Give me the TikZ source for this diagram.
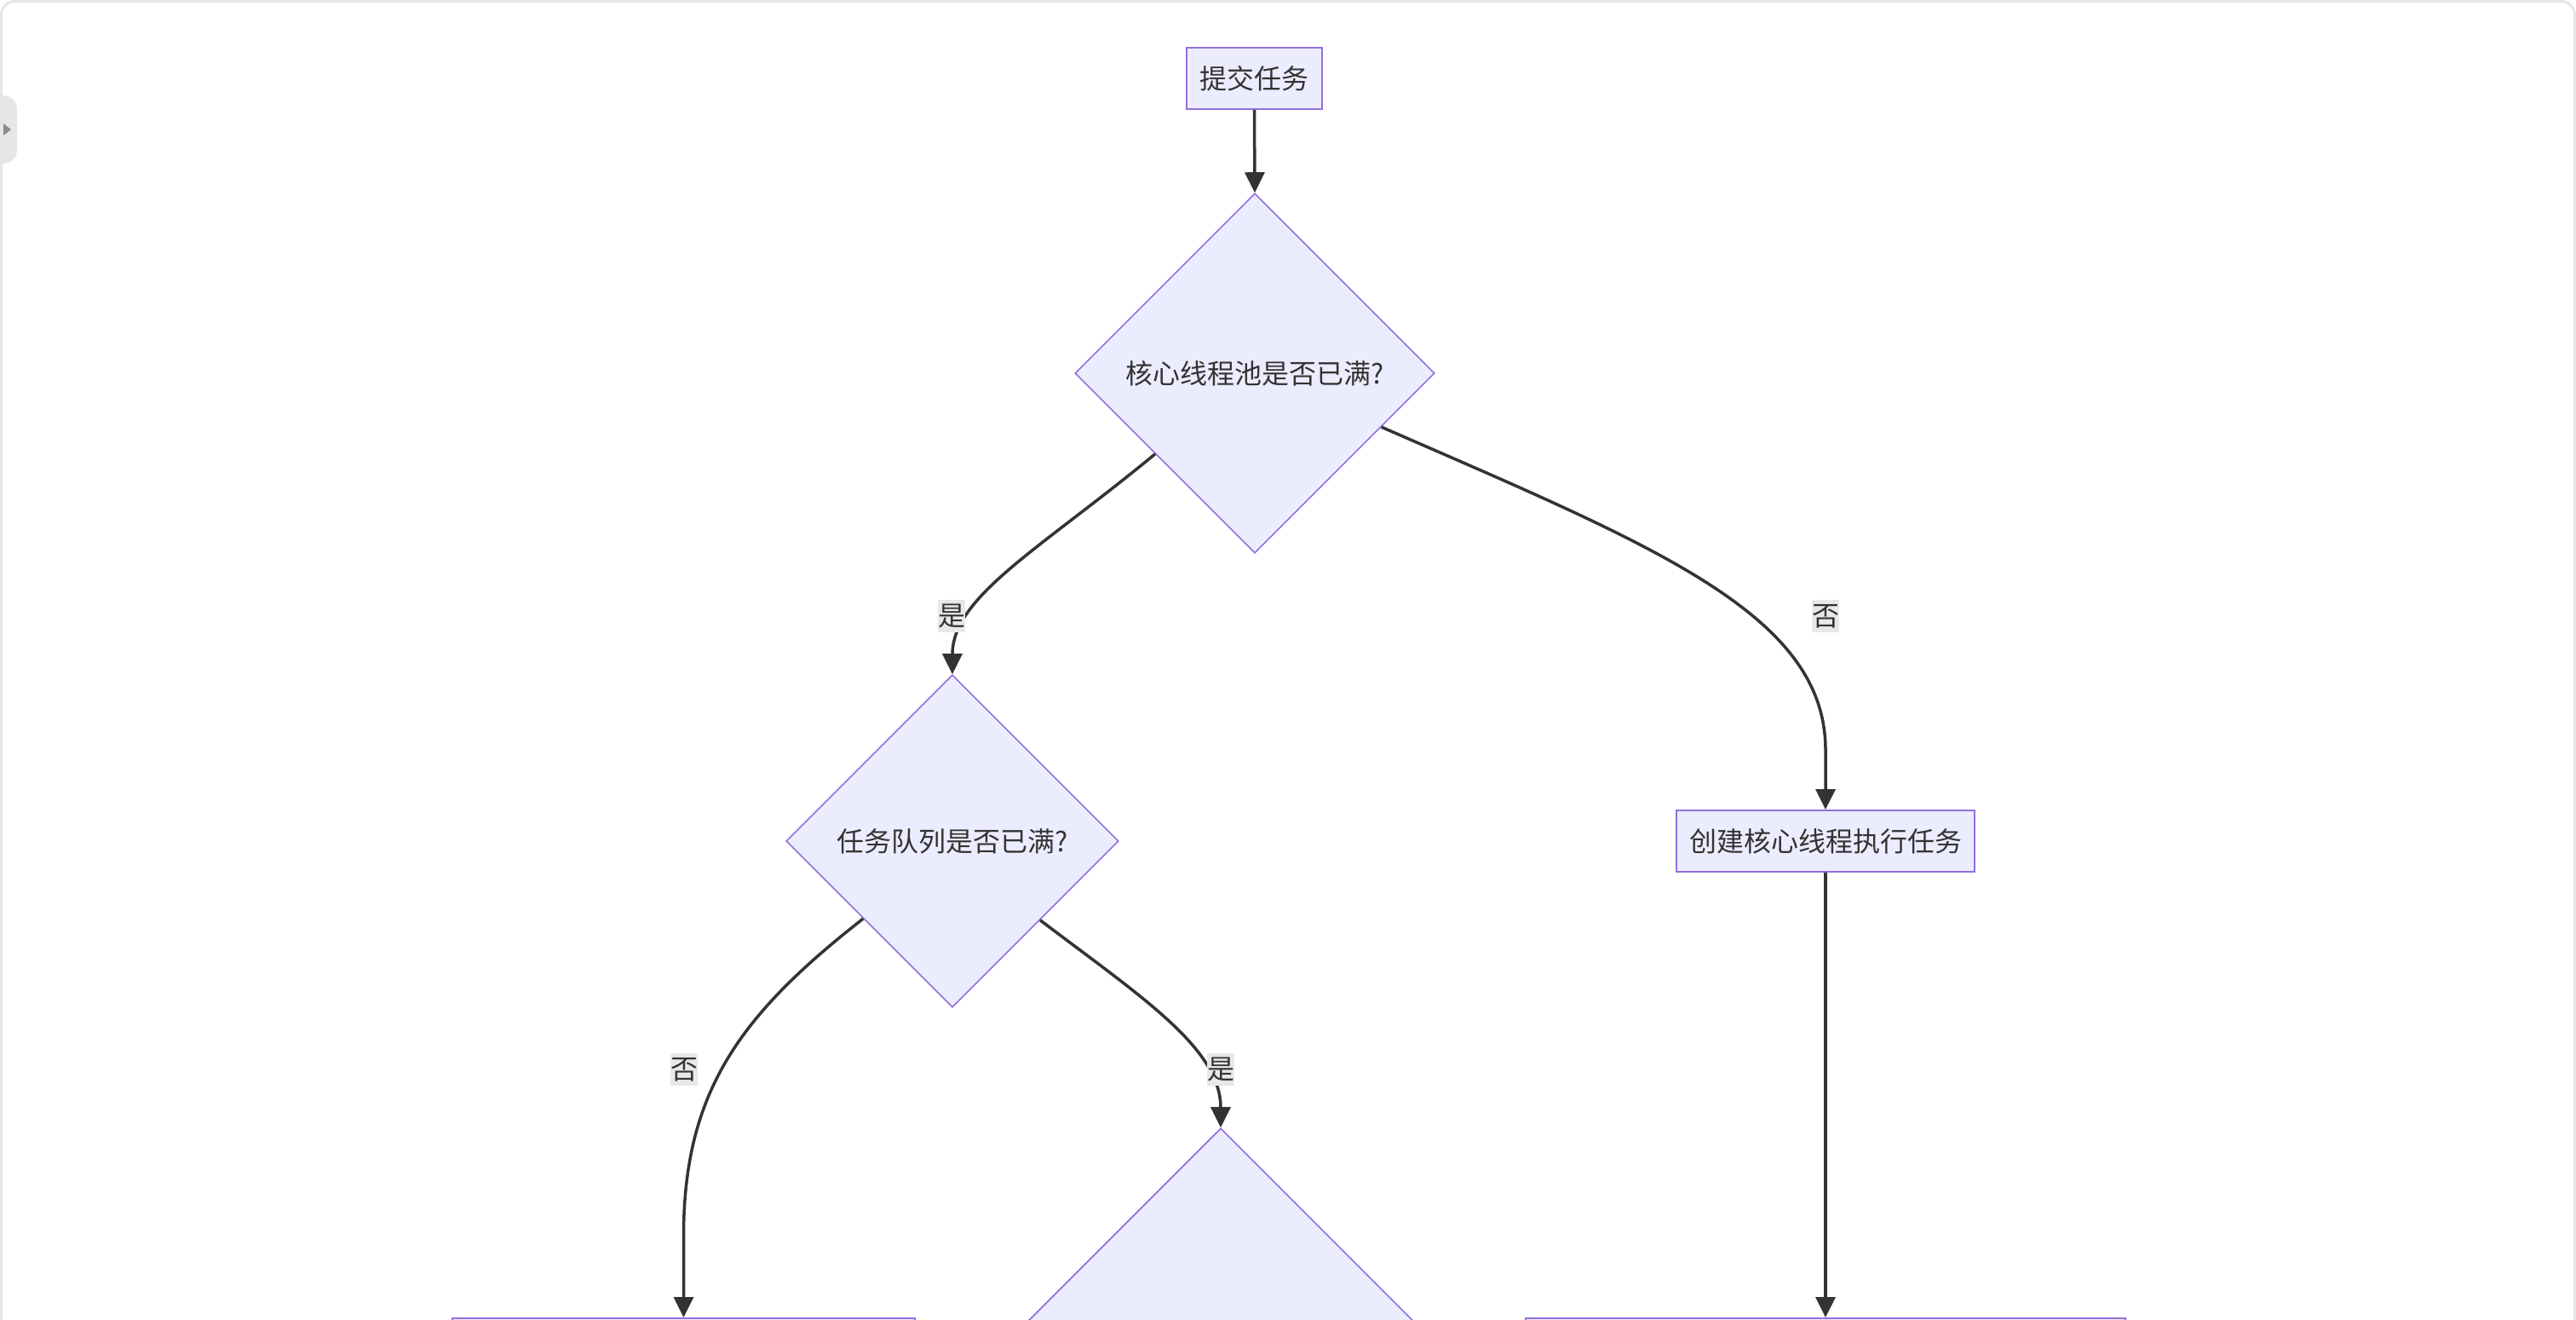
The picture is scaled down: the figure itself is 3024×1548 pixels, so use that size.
\documentclass[tikz,border=0pt]{standalone}
\usepackage{fontspec}
\newfontfamily\cjk{Noto Sans CJK SC}
\usetikzlibrary{shapes.geometric,arrows.meta}
\definecolor{nodefill}{HTML}{ECECFF}
\definecolor{nodeline}{HTML}{9370DB}
\definecolor{edgecol}{HTML}{333333}
\definecolor{txt}{HTML}{333333}
\definecolor{lblbg}{HTML}{E8E8E8}
\definecolor{framecol}{HTML}{E5E5E5}
\definecolor{tabfill}{HTML}{E6E6E6}
\definecolor{tabarrow}{HTML}{8A8A8A}
\begin{document}
\begin{tikzpicture}[x=0.5pt,y=-0.5pt,
  base/.style={font=\cjk\fontsize{16pt}{19pt}\selectfont, text=txt},
  procbox/.style={base, rectangle, draw=nodeline, fill=nodefill, line width=1pt, inner sep=0pt},
  decision/.style={base, diamond, draw=nodeline, fill=nodefill, line width=0.8pt, inner sep=0pt, aspect=1},
  elabel/.style={base, fill=lblbg, inner sep=0pt, minimum width=16pt, minimum height=19pt},
  flow/.style={draw=edgecol, line width=1.75pt, -{Triangle[length=12pt,width=11.5pt]}},
]
\useasboundingbox (0,0) rectangle (3024,1548);
\clip (0,0) rectangle (3024,1548);
\fill[white] (0,0) rectangle (3024,1548);
\draw[framecol, line width=1.5pt, rounded corners=8pt] (1.5,1600) -- (1.5,1.5) -- (3022.5,1.5) -- (3022.5,1600);
\fill[tabfill, rounded corners=8pt] (-20,112) rectangle (20,192);
\fill[tabarrow] (4,145) -- (13,152) -- (4,159) -- cycle;

% nodes
\node[procbox, minimum width=79.5pt, minimum height=36pt] (submit) at (1472.5,92) {提交任务};
\node[decision, minimum width=211pt, minimum height=211pt] (core) at (1473,438) {核心线程池是否已满?};
\node[decision, minimum width=195pt, minimum height=195pt] (queue) at (1118,987) {任务队列是否已满?};
\node[procbox, minimum width=175pt, minimum height=36pt] (create) at (2143,987) {创建核心线程执行任务};
\node[decision, minimum width=260pt, minimum height=260pt] (maxq) at (1433,1584) {};
\node[procbox, minimum width=271.5pt, minimum height=36pt] (lbox) at (802.5,1583) {};
\node[procbox, minimum width=352pt, minimum height=36pt] (rbox) at (2143,1583) {};

% connectors
\draw[flow] (submit.south) -- (core.north);
\draw[flow] (core.219) .. controls (1220,645) and (1118,700) .. (queue.north);
\draw[flow] (core.-23.6) .. controls (1940,640) and (2143,720) .. (2143,880) -- (create.north);
\draw[flow] (queue.221.3) .. controls (870,1190) and (802.5,1280) .. (802.5,1450) -- (lbox.north);
\draw[flow] (queue.-42.4) .. controls (1340,1170) and (1433,1230) .. (maxq.north);
\draw[flow] (create.south) -- (rbox.north);

% edge labels
\node[elabel] (l1) at (1117,723) {是};
\node[elabel] (l2) at (2143,723) {否};
\node[elabel] (l3) at (803,1255) {否};
\node[elabel] (l4) at (1433,1255) {是};
\end{tikzpicture}
\end{document}
